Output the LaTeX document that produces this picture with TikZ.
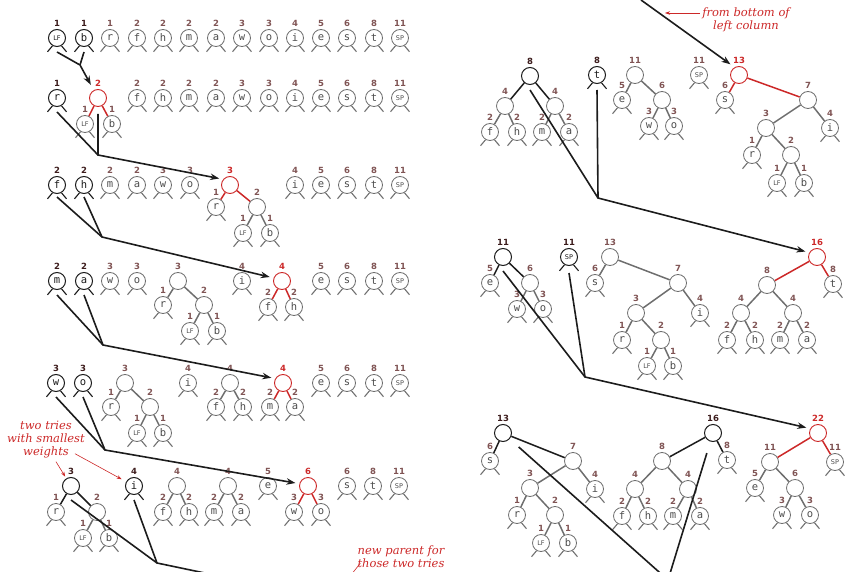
\documentclass[tikz,border=0pt]{standalone}
\usepackage{fontspec}
\setsansfont{DejaVu Sans}
\setmonofont{DejaVu Sans Mono}
\newfontfamily\notefont{DejaVu Serif}
\usetikzlibrary{arrows.meta}

\definecolor{wtc}{RGB}{128,84,84}
\definecolor{wdk}{RGB}{60,28,28}
\definecolor{hred}{RGB}{204,40,40}
\definecolor{ngray}{RGB}{110,110,110}
\definecolor{kdark}{RGB}{28,28,28}
\newcommand\tn{\fontsize{6.5}{6.5}\selectfont\sffamily}

\begin{document}
\begin{tikzpicture}[x=1pt, y=-1pt, >={Stealth[length=9pt,width=6.5pt]},
   label distance=1.5pt,
   nd/.style={circle, draw=ngray, fill=white, line width=0.8pt, minimum size=17pt, inner sep=0pt,
      text=ngray!70!black, font=\fontsize{10.5}{10.5}\selectfont\ttfamily},
   chosen/.style={draw=kdark, text=kdark, line width=1pt},
   fresh/.style={draw=hred, line width=0.9pt},
   leg/.style={draw=ngray, line width=1.1pt},
   leaf/.style={nd, append after command={(\tikzlastnode.240) edge[leg] +(-5,6)
      (\tikzlastnode.300) edge[leg] +(5,6)}},
   kleaf/.style={nd, chosen, append after command={(\tikzlastnode.240) edge[leg,draw=kdark] +(-5,6)
      (\tikzlastnode.300) edge[leg,draw=kdark] +(5,6)}},
   wlab/.style={font=\fontsize{8.5}{8.5}\selectfont\sffamily\bfseries, text=wtc, inner sep=0.5pt},
   wt/.style={label={[wlab]90:#1}},
   wtk/.style={label={[wlab,text=wdk]90:#1}},
   wtr/.style={label={[wlab,text=hred]90:#1}},
   link/.style={draw=ngray, line width=1.5pt},
   klink/.style={draw=kdark, line width=1.5pt},
   rlink/.style={draw=hred, line width=1.5pt},
   flow/.style={draw=kdark, line width=1.6pt},
   note/.style={font=\notefont\itshape\fontsize{11.5}{13}\selectfont, text=hred, align=center, inner sep=0pt},
   narrow/.style={draw=hred, line width=0.6pt, -{Stealth[length=5pt,width=3.5pt]}}]
\useasboundingbox (0,0) rectangle (856,572);
\clip (0,0) rectangle (856,572);

% left column, row 1
\node (aLF) at (57,38) [kleaf, wtk=1] {\tn LF};
\node (ab) at (84,38) [kleaf, wtk=1] {b};
\foreach \n/\x/\w in {r/110/1, f/137/2, h/163/2, m/189/2, a/216/2, w/242/3, o/269/3, i/295/4, e/321/5, s/347/6, t/374/8}
   \node (a\n) at (\x,38) [leaf, wt=\w] {\n};
\node (aSP) at (400,38) [leaf, wt=11] {\tn SP};

% row 2
\node (br) at (57,98) [kleaf, wtk=1] {r};
\node (bn2) at (98,98) [nd, fresh, wtr=2] {};
\node (bLF) at (85,124) [leaf, wt=1] {\tn LF};
\node (bb) at (112,124) [leaf, wt=1] {b};
\foreach \n/\x/\w in {f/137/2, h/163/2, m/189/2, a/216/2, w/242/3, o/269/3, i/295/4, e/321/5, s/347/6, t/374/8}
   \node (b\n) at (\x,98) [leaf, wt=\w] {\n};
\node (bSP) at (400,98) [leaf, wt=11] {\tn SP};
\draw[rlink] (bn2) -- (bLF) (bn2) -- (bb);

% row 3
\node (cf) at (57,185) [kleaf, wtk=2] {f};
\node (ch) at (84,185) [kleaf, wtk=2] {h};
\foreach \n/\x/\w in {m/110/2, a/137/2, w/163/3, o/190/3, i/295/4, e/321/5, s/347/6, t/374/8}
   \node (c\n) at (\x,185) [leaf, wt=\w] {\n};
\node (cSP) at (400,185) [leaf, wt=11] {\tn SP};
\node (cn3) at (230,185) [nd, fresh, wtr=3] {};
\node (cr) at (216,207) [leaf, wt=1] {r};
\node (cn2) at (257,207) [nd, wt=2] {};
\node (cLF) at (243,233) [leaf, wt=1] {\tn LF};
\node (cb) at (270,233) [leaf, wt=1] {b};
\draw[rlink] (cn3) -- (cr) (cn3) -- (cn2);
\draw[link] (cn2) -- (cLF) (cn2) -- (cb);

% row 4
\node (dm) at (57,281) [kleaf, wtk=2] {m};
\node (da) at (84,281) [kleaf, wtk=2] {a};
\foreach \n/\x/\w in {w/110/3, o/137/3, i/242/4, e/321/5, s/347/6, t/374/8}
   \node (d\n) at (\x,281) [leaf, wt=\w] {\n};
\node (dSP) at (400,281) [leaf, wt=11] {\tn SP};
\node (dn3) at (178,281) [nd, wt=3] {};
\node (dr) at (163,305) [leaf, wt=1] {r};
\node (dn2) at (204,305) [nd, wt=2] {};
\node (dLF) at (190,331) [leaf, wt=1] {\tn LF};
\node (db) at (217,331) [leaf, wt=1] {b};
\node (dn4) at (282,281) [nd, fresh, wtr=4] {};
\node (df) at (268,307) [leaf, wt=2] {f};
\node (dh) at (294,307) [leaf, wt=2] {h};
\draw[link] (dn3) -- (dr) (dn3) -- (dn2) (dn2) -- (dLF) (dn2) -- (db);
\draw[rlink] (dn4) -- (df) (dn4) -- (dh);

% row 5
\node (ew) at (56,383) [kleaf, wtk=3] {w};
\node (eo) at (83,383) [kleaf, wtk=3] {o};
\foreach \n/\x/\w in {i/188/4, e/321/5, s/347/6, t/374/8}
   \node (e\n) at (\x,383) [leaf, wt=\w] {\n};
\node (eSP) at (400,383) [leaf, wt=11] {\tn SP};
\node (en3) at (125,383) [nd, wt=3] {};
\node (er) at (111,407) [leaf, wt=1] {r};
\node (en2) at (150,407) [nd, wt=2] {};
\node (eLF) at (137,433) [leaf, wt=1] {\tn LF};
\node (eb) at (163,433) [leaf, wt=1] {b};
\node (en4) at (230,383) [nd, wt=4] {};
\node (ef) at (216,407) [leaf, wt=2] {f};
\node (eh) at (243,407) [leaf, wt=2] {h};
\node (en4r) at (283,383) [nd, fresh, wtr=4] {};
\node (em) at (270,407) [leaf, wt=2] {m};
\node (ea) at (295,407) [leaf, wt=2] {a};
\draw[link] (en3) -- (er) (en3) -- (en2) (en2) -- (eLF) (en2) -- (eb)
   (en4) -- (ef) (en4) -- (eh);
\draw[rlink] (en4r) -- (em) (en4r) -- (ea);

% row 6
\node (fn3) at (71,486) [nd, chosen, wtk=3] {};
\node (fr) at (56,512) [leaf, wt=1] {r};
\node (fn2) at (97,512) [nd, wt=2] {};
\node (fLF) at (83,538) [leaf, wt=1] {\tn LF};
\node (fb) at (109,538) [leaf, wt=1] {b};
\node (fi) at (134,486) [kleaf, wtk=4] {i};
\node (fn4) at (177,486) [nd, wt=4] {};
\node (ff) at (163,512) [leaf, wt=2] {f};
\node (fh) at (189,512) [leaf, wt=2] {h};
\node (fn4b) at (228,486) [nd, wt=4] {};
\node (fm) at (214,512) [leaf, wt=2] {m};
\node (fa) at (241,512) [leaf, wt=2] {a};
\node (fe) at (268,486) [leaf, wt=5] {e};
\node (fn6) at (308,486) [nd, fresh, wtr=6] {};
\node (fw) at (294,512) [leaf, wt=3] {w};
\node (fo) at (321,512) [leaf, wt=3] {o};
\node (fs) at (347,486) [leaf, wt=6] {s};
\node (ft) at (373,486) [leaf, wt=8] {t};
\node (fSP) at (399,486) [leaf, wt=11] {\tn SP};
\draw[klink] (fn3) -- (fr) (fn3) -- (fn2);
\draw[link] (fn2) -- (fLF) (fn2) -- (fb) (fn4) -- (ff) (fn4) -- (fh) (fn4b) -- (fm) (fn4b) -- (fa);
\draw[rlink] (fn6) -- (fw) (fn6) -- (fo);

% right column, row 1
\node (gn8) at (530,76) [nd, chosen, wtk=8] {};
\node (gn4) at (505,106) [nd, wt=4] {};
\node (gn4b) at (555,106) [nd, wt=4] {};
\node (gf) at (490,132) [leaf, wt=2] {f};
\node (gh) at (517,132) [leaf, wt=2] {h};
\node (gm) at (542,132) [leaf, wt=2] {m};
\node (ga) at (569,132) [leaf, wt=2] {a};
\node (gt) at (597,75) [kleaf, wtk=8] {t};
\node (gn11) at (635,75) [nd, wt=11] {};
\node (ge) at (622,100) [leaf, wt=5] {e};
\node (gn6) at (662,100) [nd, wt=6] {};
\node (gw) at (649,126) [leaf, wt=3] {w};
\node (go) at (674,126) [leaf, wt=3] {o};
\node (gSP) at (699,75) [leaf, wt=11] {\tn SP};
\node (gn13) at (739,75) [nd, fresh, wtr=13] {};
\node (gs) at (725,100) [leaf, wt=6] {s};
\node (gn7) at (808,100) [nd, wt=7] {};
\node (gn3) at (766,128) [nd, wt=3] {};
\node (gi) at (830,128) [leaf, wt=4] {i};
\node (gr) at (752,155) [leaf, wt=1] {r};
\node (gn2) at (791,155) [nd, wt=2] {};
\node (gLF) at (777,183) [leaf, wt=1] {\tn LF};
\node (gb) at (804,183) [leaf, wt=1] {b};
\draw[klink] (gn8) -- (gn4) (gn8) -- (gn4b);
\draw[link] (gn4) -- (gf) (gn4) -- (gh) (gn4b) -- (gm) (gn4b) -- (ga)
   (gn11) -- (ge) (gn11) -- (gn6) (gn6) -- (gw) (gn6) -- (go)
   (gn7) -- (gn3) (gn7) -- (gi) (gn3) -- (gr) (gn3) -- (gn2) (gn2) -- (gLF) (gn2) -- (gb);
\draw[rlink] (gn13) -- (gs) (gn13) -- (gn7);

% row 2
\node (hn11) at (503,257) [nd, chosen, wtk=11] {};
\node (he) at (490,283) [leaf, wt=5] {e};
\node (hn6) at (530,283) [nd, wt=6] {};
\node (hw) at (517,309) [leaf, wt=3] {w};
\node (ho) at (543,309) [leaf, wt=3] {o};
\node (hSP) at (569,257) [kleaf, wtk=11] {\tn SP};
\node (hn13) at (610,257) [nd, wt=13] {};
\node (hs) at (595,283) [leaf, wt=6] {s};
\node (hn7) at (678,283) [nd, wt=7] {};
\node (hn3) at (636,313) [nd, wt=3] {};
\node (hi) at (700,313) [leaf, wt=4] {i};
\node (hr) at (622,340) [leaf, wt=1] {r};
\node (hn2) at (661,340) [nd, wt=2] {};
\node (hLF) at (647,366) [leaf, wt=1] {\tn LF};
\node (hb) at (673,366) [leaf, wt=1] {b};
\node (hn16) at (817,257) [nd, fresh, wtr=16] {};
\node (hn8) at (767,285) [nd, wt=8] {};
\node (ht) at (833,284) [leaf, wt=8] {t};
\node (hn4) at (741,313) [nd, wt=4] {};
\node (hn4b) at (793,313) [nd, wt=4] {};
\node (hf) at (727,340) [leaf, wt=2] {f};
\node (hh) at (755,340) [leaf, wt=2] {h};
\node (hm) at (780,340) [leaf, wt=2] {m};
\node (ha) at (807,340) [leaf, wt=2] {a};
\draw[klink] (hn11) -- (he) (hn11) -- (hn6);
\draw[link] (hn6) -- (hw) (hn6) -- (ho)
   (hn13) -- (hs) (hn13) -- (hn7) (hn7) -- (hn3) (hn7) -- (hi) (hn3) -- (hr) (hn3) -- (hn2)
   (hn2) -- (hLF) (hn2) -- (hb)
   (hn8) -- (hn4) (hn8) -- (hn4b) (hn4) -- (hf) (hn4) -- (hh) (hn4b) -- (hm) (hn4b) -- (ha);
\draw[rlink] (hn16) -- (hn8) (hn16) -- (ht);

% row 3
\node (in13) at (503,433) [nd, chosen, wtk=13] {};
\node (is) at (490,461) [leaf, wt=6] {s};
\node (in7) at (573,461) [nd, wt=7] {};
\node (in3) at (530,488) [nd, wt=3] {};
\node (ii) at (595,489) [leaf, wt=4] {i};
\node (ir) at (517,515) [leaf, wt=1] {r};
\node (in2) at (555,515) [nd, wt=2] {};
\node (iLF) at (541,543) [leaf, wt=1] {\tn LF};
\node (ib) at (568,543) [leaf, wt=1] {b};
\node (in16) at (713,433) [nd, chosen, wtk=16] {};
\node (in8) at (662,461) [nd, wt=8] {};
\node (it) at (727,460) [leaf, wt=8] {t};
\node (in4) at (635,489) [nd, wt=4] {};
\node (in4b) at (688,489) [nd, wt=4] {};
\node (if) at (622,516) [leaf, wt=2] {f};
\node (ih) at (648,516) [leaf, wt=2] {h};
\node (im) at (673,516) [leaf, wt=2] {m};
\node (ia) at (700,516) [leaf, wt=2] {a};
\node (in22) at (818,433) [nd, fresh, wtr=22] {};
\node (in11) at (770,462) [nd, wt=11] {};
\node (iSP) at (835,462) [leaf, wt=11] {\tn SP};
\node (ie) at (755,488) [leaf, wt=5] {e};
\node (in6) at (795,488) [nd, wt=6] {};
\node (iw) at (782,515) [leaf, wt=3] {w};
\node (io) at (810,515) [leaf, wt=3] {o};
\draw[klink] (in13) -- (is) (in13) -- (in7) (in16) -- (in8) (in16) -- (it);
\draw[link] (in7) -- (in3) (in7) -- (ii) (in3) -- (ir) (in3) -- (in2) (in2) -- (iLF) (in2) -- (ib)
   (in8) -- (in4) (in8) -- (in4b) (in4) -- (if) (in4) -- (ih) (in4b) -- (im) (in4b) -- (ia)
   (in11) -- (ie) (in11) -- (in6) (in6) -- (iw) (in6) -- (io);
\draw[rlink] (in22) -- (in11) (in22) -- (iSP);

% merging the two smallest tries
\coordinate (j1) at (80,65);
\coordinate (j2) at (98,155);
\coordinate (j3) at (102,237);
\coordinate (j4) at (103,345);
\coordinate (j5) at (105,450);
\coordinate (j6) at (157,563);
\coordinate (j6o) at (262,585);
\coordinate (jtop) at (641,0);
\coordinate (jg) at (598,198);
\coordinate (jh) at (585,377);
\coordinate (ji) at (668,580);
\draw[flow] ([yshift=-5pt]ab.south) -- (j1);
\draw[flow,->,shorten >=6pt] ([yshift=-5pt]aLF.south) -- (j1) -- (bn2);
\draw[flow] ([yshift=-5pt]br.south) -- (j2);
\draw[flow,->,shorten >=4pt] ([yshift=-7pt]bn2.south) -- (j2) -- (cn3.140);
\draw[flow] ([yshift=-3pt]ch.south) -- (j3);
\draw[flow,->,shorten >=4pt] ([yshift=-3pt]cf.south) -- (j3) -- (dn4.160);
\draw[flow] ([yshift=-5pt]da.south) -- (j4);
\draw[flow,->,shorten >=4pt] ([yshift=-5pt]dm.south) -- (j4) -- (en4r.150);
\draw[flow] ([yshift=-5pt]eo.south) -- (j5);
\draw[flow,->,shorten >=4pt] ([yshift=-5pt]ew.south) -- (j5) -- (fn6.165);
\draw[flow] ([yshift=-5pt]fi.south) -- (j6);
\draw[flow] ([yshift=-5pt]fn3.south) -- (j6) -- (j6o);
\draw[flow,->,shorten >=5pt] (jtop) -- (gn13.120);
\draw[flow] ([yshift=-6pt]gt.south) -- (jg);
\draw[flow,->,shorten >=4pt] ([yshift=-5pt]gn8.south) -- (jg) -- (hn16.150);
\draw[flow] ([yshift=-7pt]hSP.south) -- (jh);
\draw[flow,->,shorten >=4pt] ([yshift=-5pt]hn11.south) -- (jh) -- (in22.150);
\draw[flow,shorten <=12pt] (in13) -- (ji);
\draw[flow,shorten <=12pt] (in16) -- (ji);

% notes
\node (twotries) at (46,440) [note] {two tries\\with smallest\\weights};
\draw[narrow,shorten >=2pt] ([shift={(10,3)}]twotries.south) -- (fn3);
\draw[narrow,shorten >=5pt] ([shift={(-10,-5)}]twotries.south east) -- (fi);
\node (newpar) at (401,557) [note] {new parent for\\those two tries};
\coordinate (newtip) at (347,580);
\draw[draw=hred, line width=0.6pt] ([shift={(3,-5)}]newpar.south west) -- (newtip);
\node (fromlbl) at (746,20) [note] {from bottom of\\left column};
\coordinate (fromtip) at (665,13);
\draw[narrow] ([shift={(-2,-7)}]fromlbl.west) -- (fromtip);
\end{tikzpicture}
\end{document}
